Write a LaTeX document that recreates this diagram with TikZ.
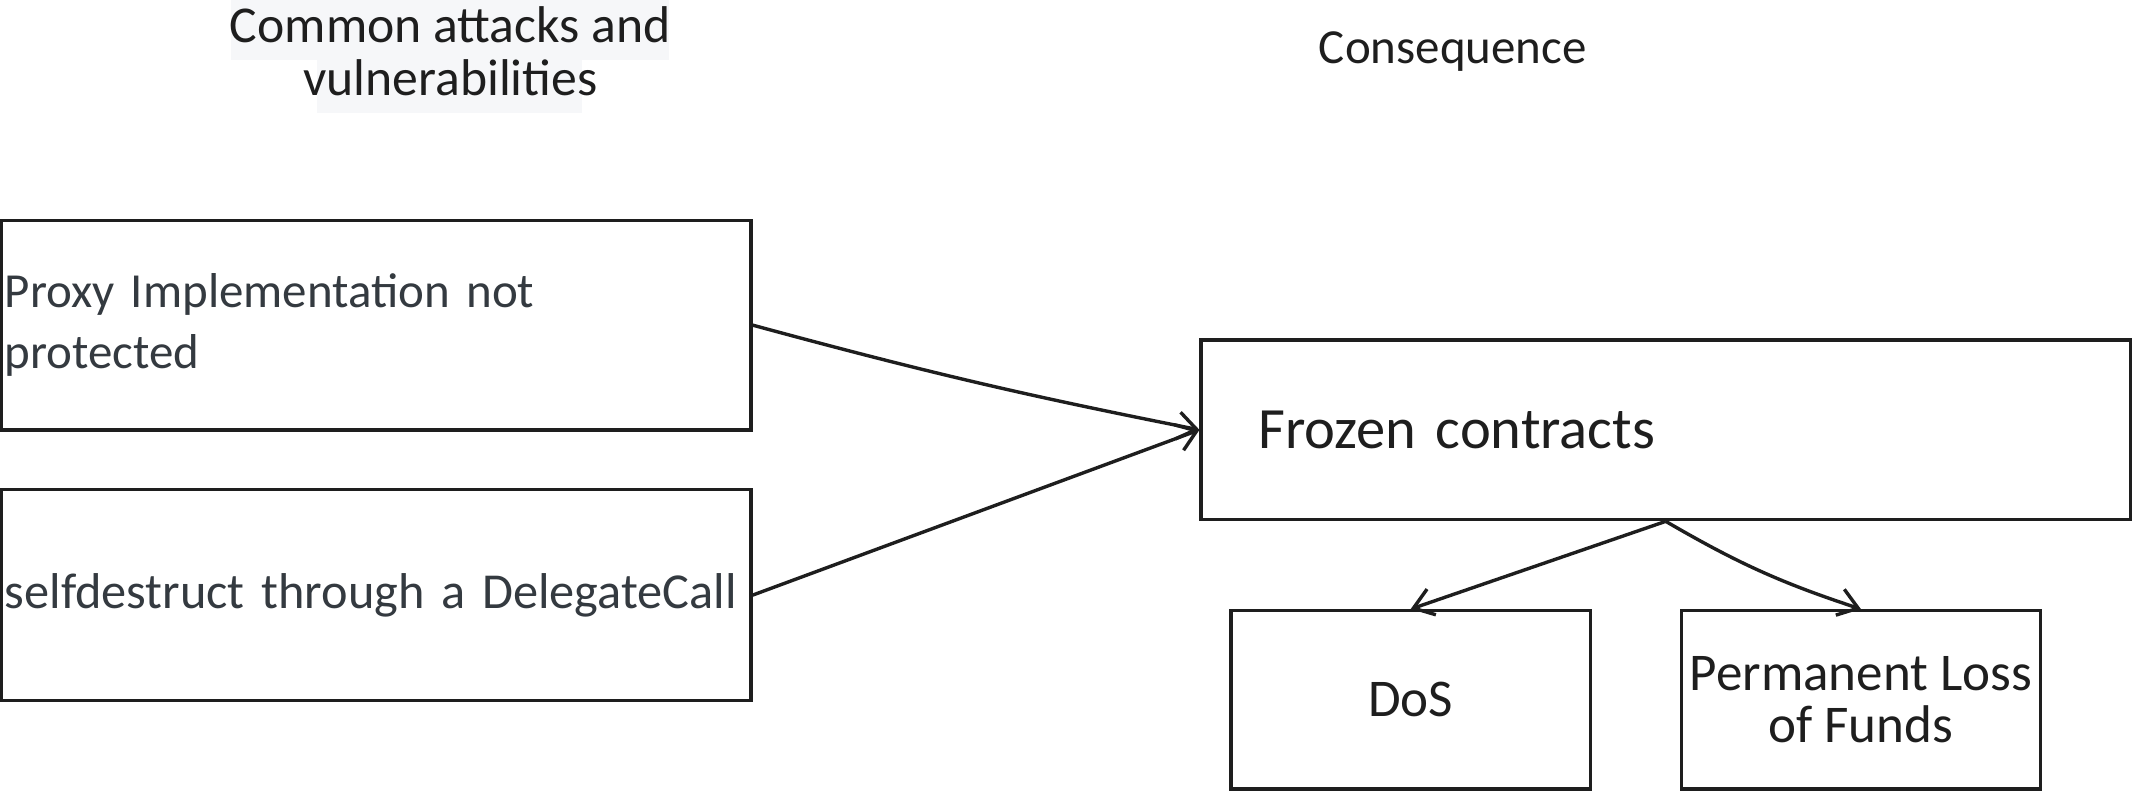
\documentclass[tikz,border=0pt]{standalone}
\usepackage{fontspec}
\setmainfont{Carlito}
\usetikzlibrary{arrows.meta}
\definecolor{ink}{HTML}{1E1E1E}
\definecolor{txt}{HTML}{343A40}
\definecolor{hl}{HTML}{F6F7F9}
\begin{document}
\begin{tikzpicture}[x=0.5pt,y=-0.5pt,
  box/.style={draw=ink,line width=1.25pt,rectangle,inner sep=0pt},
  lbl/.style={text=ink,font=\fontsize{19}{19.5}\selectfont},
  arr/.style={draw=ink,line width=1.25pt,-{Straight Barb[length=7pt,width=10pt,line width=1.25pt]}}]
\useasboundingbox (0,0) rectangle (1568,582);
\fill[hl] (170,0) rectangle (492,44);
\fill[hl] (233,44) rectangle (428,83);
\node[lbl,align=center] (title) at (331,38) {Common attacks and\\vulnerabilities};
\node[lbl,font=\fontsize{18}{19.5}\selectfont] (cons) at (1068,38) {Consequence};
\node[box,minimum width=275.5pt,minimum height=77pt,text width=273pt,inner xsep=1.25pt,align=left,text=txt,font=\fontsize{18}{22.5}\selectfont] (b1) at (276.5,239) {Proxy Implementation not\\protected};
\node[box,minimum width=275.5pt,minimum height=77.5pt,text width=273pt,inner xsep=1.25pt,align=left,text=txt,font=\fontsize{18.5}{22.5}\selectfont] (b2) at (276.5,437.5) {selfdestruct through a DelegateCall};
\node[box,minimum width=341.5pt,minimum height=66pt,text width=299.5pt,inner xsep=21pt,align=left,text=ink,font=\fontsize{21.5}{24}\selectfont] (fz) at (1224.5,316) {Frozen contracts};
\node[box,minimum width=132pt,minimum height=65.5pt,align=center,text=ink,font=\fontsize{19.5}{19}\selectfont] (dos) at (1037,514.5) {DoS};
\node[box,minimum width=132pt,minimum height=65.5pt,align=center,text=ink,font=\fontsize{19.5}{19}\selectfont] (pl) at (1368,514.5) {Permanent Loss\\of Funds};
\draw[arr] (b1.east) to[bend right=2] (fz.west);
\draw[arr] (b2.east) -- (fz.west);
\draw[arr] (fz.south) -- (dos.north);
\draw[arr] (fz.south) to[bend right=6] (pl.north);
\end{tikzpicture}
\end{document}
